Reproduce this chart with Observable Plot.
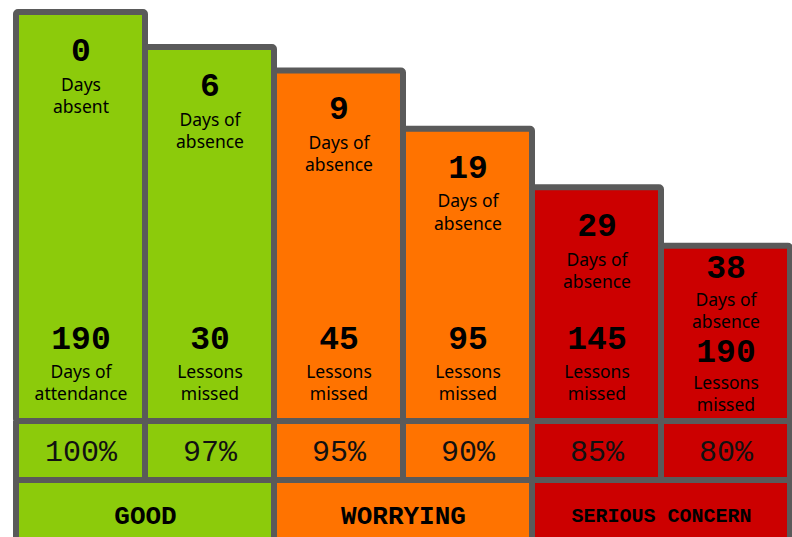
<!DOCTYPE html>
<html><head><meta charset="utf-8">
<script src="https://cdn.jsdelivr.net/npm/d3@7"></script>
<script src="https://cdn.jsdelivr.net/npm/@observablehq/plot@0.6"></script>
<style>
html,body{margin:0;padding:0;background:#fff;}
#chart svg{display:block;}
</style></head><body><div id="chart"></div>
<script>
// ---- data ----
const columns = ["100%", "97%", "95%", "90%", "85%", "80%"];
const attendance = [100, 97, 95, 90, 85, 80];
const daysAbsent = [0, 6, 9, 19, 29, 38];
const absentLabels = ["Days\nabsent", "Days of\nabsence", "Days of\nabsence", "Days of\nabsence", "Days of\nabsence", "Days of\nabsence"];
const lowerValues = [190, 30, 45, 95, 145, 190];
const lowerLabels = ["Days of\nattendance", "Lessons\nmissed", "Lessons\nmissed", "Lessons\nmissed", "Lessons\nmissed", "Lessons\nmissed"];
const levels = ["GOOD", "GOOD", "WORRYING", "WORRYING", "SERIOUS CONCERN", "SERIOUS CONCERN"];
const levelNames = ["GOOD", "WORRYING", "SERIOUS CONCERN"];
const levelColors = ["#8ccb0b", "#ff7300", "#cc0000"];

// ---- styles ----
const border = "#5a5a5a";
const mono = "'Liberation Mono', 'DejaVu Sans Mono', monospace";
const sans = "'Noto Sans', sans-serif";
const W = 792;

const rows = columns.map((c, i) => ({
  col: c, pct: attendance[i], days: daysAbsent[i], absentLabel: absentLabels[i],
  lower: lowerValues[i], lowerLabel: lowerLabels[i], level: levels[i], last: i === columns.length - 1
}));
const main = rows.filter(d => !d.last);
const tight = rows.filter(d => d.last);

const xCols = {domain: columns, padding: 0, axis: null};
const colorScale = {domain: levelNames, range: levelColors};
const svgStyle = "overflow:hidden;display:block;background:white;";

const numStyle = {fontFamily: mono, fontWeight: "bold", fontSize: 33, fill: "#000", lineAnchor: "middle"};
const labStyle = {fontFamily: sans, fontSize: 17.5, lineHeight: 1.27, fill: "#000", lineAnchor: "middle"};

const plotA = Plot.plot({
  width: W, height: 421, marginLeft: 15, marginRight: 1, marginTop: 12, marginBottom: 0,
  style: svgStyle,
  x: xCols, y: {domain: [65, 100], axis: null}, color: colorScale,
  marks: [
    Plot.barY(rows, {x: "col", y1: 65, y2: "pct", fill: "level", stroke: border, strokeWidth: 6, rx: 2}),
    Plot.text(main, {x: "col", y: "pct", text: d => String(d.days), dy: 38, ...numStyle}),
    Plot.text(main, {x: "col", y: "pct", text: "absentLabel", dy: 82, ...labStyle}),
    Plot.text(tight, {x: "col", y: "pct", text: d => String(d.days), dy: 21, ...numStyle}),
    Plot.text(tight, {x: "col", y: "pct", text: "absentLabel", dy: 64, ...labStyle}),
    Plot.text(main, {x: "col", frameAnchor: "bottom", text: d => String(d.lower), dy: -83, ...numStyle}),
    Plot.text(main, {x: "col", frameAnchor: "bottom", text: "lowerLabel", dy: -40, ...labStyle}),
    Plot.text(tight, {x: "col", frameAnchor: "bottom", text: d => String(d.lower), dy: -70, ...numStyle}),
    Plot.text(tight, {x: "col", frameAnchor: "bottom", text: "lowerLabel", dy: -29, ...labStyle})
  ]
});

const plotB = Plot.plot({
  width: W, height: 59, marginLeft: 15, marginRight: 1, marginTop: 0, marginBottom: 0,
  style: svgStyle,
  x: xCols, y: {domain: [0, 1], axis: null}, color: colorScale,
  marks: [
    Plot.barY(rows, {x: "col", y1: 0, y2: 1, fill: "level", stroke: border, strokeWidth: 6}),
    Plot.text(rows, {x: "col", frameAnchor: "middle", text: "col", fontFamily: mono, fontSize: 30, fill: "#111", lineAnchor: "middle"})
  ]
});

const plotC = Plot.plot({
  width: W, height: 57, marginLeft: 15, marginRight: 1, marginTop: 0, marginBottom: 0,
  style: svgStyle,
  x: {domain: levelNames, padding: 0, axis: null}, y: {domain: [0, 1], axis: null}, color: colorScale,
  marks: [
    Plot.barY(levelNames, {x: d => d, y1: 0, y2: 1, fill: d => d, stroke: border, strokeWidth: 6, insetBottom: -10}),
    Plot.text(levelNames, {x: d => d, text: d => d, frameAnchor: "top", dy: 35, lineAnchor: "middle",
      fontFamily: mono, fontWeight: "bold", fontSize: d => d.length > 10 ? 20 : 26, fill: "#000"})
  ]
});

const el = document.getElementById("chart");
el.append(plotA, plotB, plotC);
</script></body></html>
